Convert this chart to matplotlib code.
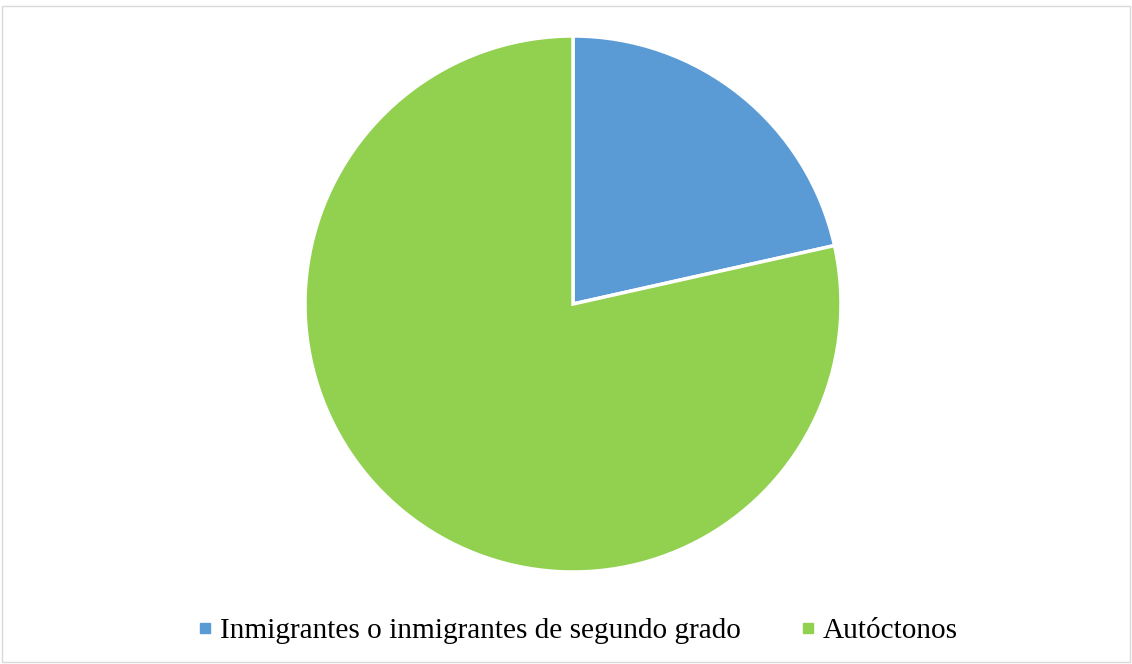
import matplotlib.pyplot as plt
from matplotlib.lines import Line2D
from matplotlib.patches import Rectangle

labels = ["Inmigrantes o inmigrantes de segundo grado", "Autóctonos"]
values = [21.5, 78.5]
colors = ["#5B9BD5", "#92D050"]

fig = plt.figure(figsize=(11.32, 6.64), dpi=100)
fig.patch.set_facecolor("white")

# light frame round the chart area
fig.add_artist(Rectangle((2 / 1132, 2 / 664), 1128 / 1132, 656 / 664,
                         transform=fig.transFigure, fill=False,
                         edgecolor="#D9D9D9", linewidth=1))

ax = fig.add_axes([305 / 1132, 92 / 664, 536 / 1132, 536 / 664])
ax.pie(values, colors=colors, startangle=90, counterclock=False, radius=1,
       wedgeprops=dict(edgecolor="white", linewidth=2.5))
ax.set_xlim(-1, 1)
ax.set_ylim(-1, 1)
ax.set_aspect("equal")
ax.axis("off")

handles = [Line2D([0], [0], marker="s", color="none", markerfacecolor=c,
                  markeredgecolor=c, markersize=7.2) for c in colors]
fig.legend(handles, labels, loc="center", bbox_to_anchor=(577.5 / 1132, 1 - 631 / 664),
           ncol=2, frameon=False, handlelength=0.5, handletextpad=0.25,
           columnspacing=2.05, prop={"family": "Liberation Serif", "size": 21.1})

fig.savefig("out.png", dpi=100)
